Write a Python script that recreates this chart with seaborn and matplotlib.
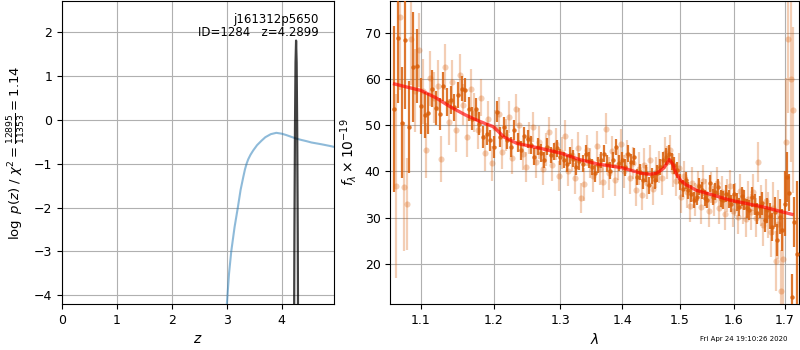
import numpy as np
import matplotlib
matplotlib.use("Agg")
import matplotlib.pyplot as plt
from matplotlib.ticker import FormatStrFormatter, NullLocator
import seaborn as sns

# ---- redshift probability ----
pz_z = [2.97, 3.0, 3.04, 3.08, 3.14, 3.2, 3.25, 3.3, 3.33, 3.36, 3.39, 3.43, 3.48,
        3.55, 3.63, 3.7, 3.8, 3.9, 4.0, 4.08, 4.17, 4.26, 4.35, 4.45, 4.54, 4.63,
        4.72, 4.8, 4.88, 4.95]
pz_logp = [-4.7, -4.2, -3.5, -3.0, -2.45, -2.0, -1.6, -1.3, -1.13, -1.0, -0.9,
           -0.8, -0.7, -0.58, -0.48, -0.40, -0.33, -0.30, -0.32, -0.35, -0.39,
           -0.43, -0.46, -0.49, -0.52, -0.54, -0.56, -0.58, -0.60, -0.62]

fit_z = [4.22, 4.23, 4.24, 4.25, 4.26, 4.27, 4.28, 4.29, 4.30]
fit_logp = [-6.0, -2.6, -0.2, 1.3, 1.8, 1.3, -0.2, -2.6, -6.0]

# ---- spectrum (flux in 1e-19 units) ----
dark_start, dark_step = 1.065, 0.005
dark_flux = [
    53.5, 68.9, 50.6, 68.5, 49.7, 62.7, 62.9, 54.2, 52.2, 52.6,
    58.0, 53.8, 52.5, 58.5, 55.1, 55.5, 53.9, 56.6, 58.0, 57.7,
    53.5, 51.5, 53.5, 50.4, 47.5, 48.1, 46.8, 45.3, 53.0, 47.5,
    49.7, 46.9, 45.3, 49.0, 46.3, 44.6, 47.6, 47.0, 45.8, 43.2,
    45.4, 44.0, 42.5, 45.4, 43.6, 44.4, 45.0, 43.1, 42.5, 41.7,
    43.5, 42.8, 41.0, 42.2, 41.7, 43.9, 42.5, 41.0, 39.6, 41.4,
    42.5, 43.9, 41.7, 40.2, 42.5, 45.3, 41.8, 42.5, 40.9, 43.9,
    42.0, 43.2, 38.8, 39.9, 38.1, 39.6, 37.0, 39.0, 38.1, 39.6,
    41.0, 42.5, 43.2, 43.9, 42.2, 41.3, 40.3, 37.7, 36.3, 38.1,
    35.9, 35.2, 33.8, 34.5, 36.8, 35.9, 34.2, 33.8, 37.4, 34.5,
    35.6, 36.6, 34.1, 33.8, 35.2, 34.0, 33.0, 35.2, 33.4, 32.3,
    34.6, 33.8, 32.0, 31.6, 34.5, 32.8, 30.9, 32.3, 33.1, 29.4,
    31.6, 30.4, 28.0, 31.2, 25.1, 30.2, 27.3, 33.0, 38.8, 35.4,
    12.7, 29.0, 22.0,
]
dark_err = [
    18.0, 14.0, 12.0, 15.0, 10.0, 12.0, 8.0, 6.0, 5.0, 4.5,
    4.0, 3.6, 3.5, 3.2, 3.0, 3.0, 2.9, 2.8, 2.7, 2.7,
    2.6, 2.6, 2.5, 2.5, 2.4, 2.4, 2.3, 2.3, 2.2, 2.2,
    2.2, 2.1, 2.1, 2.1, 2.0, 2.0, 2.0, 2.0, 1.9, 1.9,
    1.9, 1.9, 1.8, 1.8, 1.8, 1.8, 1.8, 1.8, 1.8, 1.8,
    1.8, 1.8, 1.8, 1.8, 1.8, 1.8, 1.8, 1.8, 1.8, 1.8,
    1.8, 1.8, 1.8, 1.8, 1.8, 1.8, 1.8, 1.8, 1.8, 1.8,
    1.8, 1.8, 1.8, 1.8, 1.8, 1.8, 1.8, 1.8, 1.8, 1.8,
    1.8, 1.8, 1.8, 1.8, 1.8, 1.8, 1.8, 1.8, 1.8, 1.8,
    1.8, 1.8, 1.8, 1.8, 1.8, 1.8, 1.8, 1.8, 1.8, 1.8,
    1.8, 1.8, 1.8, 1.9, 1.9, 1.9, 1.9, 2.0, 2.0, 2.0,
    2.1, 2.1, 2.1, 2.2, 2.2, 2.3, 2.3, 2.4, 2.5, 2.6,
    2.7, 2.8, 3.0, 3.2, 3.5, 3.8, 4.5, 7.0, 5.5, 4.0,
    5.0, 5.5, 16.0,
]

light_start, light_step = 1.0675, 0.005
light_flux = [
    36.8, 73.6, 36.7, 32.9, 68.8, 57.5, 66.4, 57.4, 44.6, 60.2,
    56.0, 58.6, 42.8, 62.7, 50.8, 59.5, 49.0, 61.0, 54.5, 47.5,
    58.0, 52.8, 49.0, 56.0, 44.0, 51.5, 41.8, 49.5, 52.5, 44.2,
    48.0, 51.8, 43.0, 53.5, 50.2, 43.8, 41.0, 47.2, 49.6, 42.0,
    46.3, 40.5, 44.8, 48.5, 41.5, 46.0, 39.0, 44.0, 47.8, 40.2,
    43.5, 38.5, 45.0, 34.3, 37.2, 44.6, 41.8, 39.0, 45.5, 40.5,
    37.8, 49.3, 39.6, 44.4, 38.2, 41.5, 46.0, 40.0, 43.6, 38.5,
    41.9, 36.0, 40.6, 35.0, 41.5, 37.5, 42.5, 36.2, 39.8, 41.0,
    38.5, 44.0, 42.0, 44.6, 40.2, 38.0, 40.8, 34.5, 39.0, 35.5,
    32.6, 37.5, 34.0, 36.8, 32.2, 38.0, 35.2, 31.5, 36.5, 33.8,
    37.6, 32.0, 35.6, 30.8, 34.8, 36.8, 31.5, 34.0, 30.2, 35.8,
    32.5, 29.6, 34.0, 31.2, 35.5, 30.0, 42.0, 32.6, 28.4, 33.5,
    30.5, 26.8, 32.0, 20.5, 28.5, 14.0, 21.0, 46.3, 68.7, 60.0,
    53.3,
]
light_err = [
    20.0, 16.0, 14.0, 10.0, 10.0, 9.0, 8.0, 7.0, 6.0, 6.0,
    5.5, 5.5, 5.0, 5.0, 5.0, 4.8, 4.8, 4.6, 4.5, 4.4,
    4.3, 4.2, 4.1, 4.0, 4.0, 3.9, 3.8, 3.8, 3.7, 3.6,
    3.5, 3.4, 3.6, 3.3, 3.5, 3.4, 3.2, 3.5, 3.3, 3.4,
    3.5, 3.4, 3.6, 3.3, 3.5, 3.4, 3.2, 3.5, 3.3, 3.4,
    3.5, 3.4, 3.6, 3.3, 3.5, 3.4, 3.2, 3.5, 3.3, 3.4,
    3.5, 3.4, 3.6, 3.3, 3.5, 3.4, 3.2, 3.5, 3.3, 3.4,
    3.5, 3.4, 3.6, 3.3, 3.5, 3.4, 3.2, 3.5, 3.3, 3.4,
    3.5, 3.4, 3.6, 3.3, 3.5, 3.4, 3.2, 3.5, 3.3, 3.4,
    3.5, 3.4, 3.6, 3.3, 3.5, 3.4, 3.2, 3.5, 3.3, 3.4,
    3.4, 3.3, 3.5, 3.4, 3.5, 3.6, 3.5, 3.6, 3.7, 3.7,
    3.8, 3.8, 3.9, 4.0, 4.0, 4.2, 4.3, 4.4, 4.6, 4.8,
    5.0, 5.4, 5.8, 6.5, 7.5, 9.0, 10.0, 14.0, 16.0, 18.0,
    18.0,
]

model_wave = [1.066, 1.08, 1.10, 1.12, 1.14, 1.16, 1.18, 1.20, 1.215, 1.234, 1.25,
              1.27, 1.30, 1.33, 1.36, 1.40, 1.432, 1.447, 1.458, 1.47, 1.476, 1.481,
              1.487, 1.493, 1.501, 1.51, 1.53, 1.56, 1.592, 1.657, 1.715]
model_flux = [59.0, 58.4, 57.6, 56.0, 54.0, 52.3, 50.9, 49.7, 47.5, 46.1, 45.6,
              45.0, 44.0, 42.6, 41.6, 40.8, 39.6, 39.4, 39.6, 40.6, 41.6, 42.6,
              41.6, 39.6, 38.1, 37.2, 35.9, 34.9, 33.8, 32.3, 30.7]

obj_name = "j161312p5650"
obj_id = 1284
z_best = 4.2899
chi2_num, chi2_den = 12895, 11353
stamp = "Fri Apr 24 19:10:26 2020"

dark_wave = dark_start + dark_step * np.arange(len(dark_flux))
light_wave = light_start + light_step * np.arange(len(light_flux))

plt.rcParams["font.size"] = 9
fig = plt.figure(figsize=(8, 3.5), dpi=100)
ax1 = fig.add_axes([0.0775, 0.131, 0.34, 0.866])
ax2 = fig.add_axes([0.488, 0.131, 0.511, 0.866])

# left: log p(z)
sns.lineplot(x=pz_z, y=pz_logp, ax=ax1, color="tab:blue", alpha=0.5, lw=1.5,
             sort=False, estimator=None)
sns.lineplot(x=fit_z, y=fit_logp, ax=ax1, color="k", alpha=0.75, lw=1.6,
             sort=False, estimator=None)
ax1.set_xlim(0, 4.95)
ax1.set_ylim(-4.2, 2.7)
ax1.set_xticks([0, 1, 2, 3, 4])
ax1.set_yticks([-4, -3, -2, -1, 0, 1, 2])
ax1.grid(True)
ax1.set_axisbelow(True)
ax1.set_xlabel(r"$z$", fontsize=10)
ax1.set_ylabel(r"$\log\ p(z)$ / $\chi^2=\frac{%d}{%d}=%.2f$"
               % (chi2_num, chi2_den, chi2_num / chi2_den), fontsize=9.5)
ax1.text(0.945, 0.962, "%s\nID=%d   z=%.4f" % (obj_name, obj_id, z_best),
         transform=ax1.transAxes, ha="right", va="top", fontsize=8.5,
         linespacing=1.05)

# right: spectrum
orange = "#d95f0a"
ax2.errorbar(light_wave, light_flux, yerr=light_err, fmt="o", ms=4.4,
             color=orange, ecolor=orange, elinewidth=1.6, alpha=0.3,
             mew=0, zorder=2)
ax2.errorbar(dark_wave, dark_flux, yerr=dark_err, fmt="o", ms=3.2,
             color=orange, ecolor=orange, elinewidth=1.6, alpha=0.85,
             mew=0, zorder=3)
sns.lineplot(x=model_wave, y=model_flux, ax=ax2, color="red", alpha=0.65, lw=2.4,
             sort=False, estimator=None, zorder=4)
ax2.set_xscale("log")
ax2.set_xlim(1.0607, 1.730)
ax2.set_ylim(11.2, 77)
ax2.set_xticks([1.1, 1.2, 1.3, 1.4, 1.5, 1.6, 1.7])
ax2.xaxis.set_major_formatter(FormatStrFormatter("%.1f"))
ax2.xaxis.set_minor_locator(NullLocator())
ax2.set_yticks([20, 30, 40, 50, 60, 70])
ax2.grid(True)
ax2.set_axisbelow(True)
ax2.set_xlabel(r"$\lambda$", fontsize=10)
ax2.set_ylabel(r"$f_\lambda \times 10^{-19}$", fontsize=10)

fig.text(0.985, 0.03, stamp, ha="right", va="center", fontsize=5)

fig.savefig("out.png", dpi=100)
